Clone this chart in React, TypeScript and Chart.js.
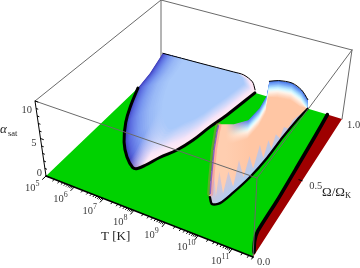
import React, { useEffect, useRef } from "react";
import { Chart, registerables } from "chart.js";
Chart.register(...registerables);

type P3 = number[];

const tTicks = [5, 6, 7, 8, 9, 10, 11];
const tMinor = [0.3, 0.48, 0.6, 0.7, 0.78, 0.85, 0.9, 0.95];
const alphaTicks = [0, 5, 10];
const alphaMinor = [1, 2, 3, 4, 6, 7, 8, 9];
const omegaTicks = [0, 0.5, 1];

// [log10 T, Omega/Omega_K] of the alpha = 0 contours
const leftContour: P3[] = [[5.0, 0.76], [5.31, 0.62], [5.66, 0.49], [6.15, 0.36], [6.61, 0.276], [7.01, 0.228], [7.16, 0.232], [7.3, 0.272], [7.48, 0.343], [7.76, 0.426], [7.96, 0.524], [8.11, 0.648], [8.3, 0.77], [8.57, 1.0]];
// [log10 T, Omega/Omega_K, alpha] of the upper rim of the low-temperature hump
const leftCrest: P3[] = [[8.57, 1, 0.45], [8.46, 1, 1.5], [8.13, 1, 2.15], [7.76, 1, 2.15], [6.5, 1, 2.0], [5.04, 1, 1.85], [5, 0.878, 0.5]];
const rightContour: P3[] = [[9.59, 0.22], [9.77, 0.187], [9.95, 0.208], [10.08, 0.289], [10.22, 0.416], [10.3, 0.568], [10.32, 0.74], [10.37, 0.89], [10.44, 1.0]];
const rightBackCrest: P3[] = [[10.41, 1, 1.3], [10.17, 1, 2.4], [9.83, 1, 3.0], [9.37, 1, 2.8], [9.05, 1, 2.3]];
const rightFrontCrest: P3[] = [[9.48, 0.82, 3.5], [9.77, 0.638, 5], [9.87, 0.486, 6], [9.89, 0.338, 8], [9.82, 0.219, 10]];
const rightWall: P3[] = [[9.78, 0.22, 9], [9.7, 0.22, 6.5], [9.62, 0.22, 2.2]];
const rightSpikes: P3[] = [[9.62, 0.215, 0.5], [9.68, 0.2, 3.4], [9.74, 0.19, 0.8], [9.8, 0.188, 5.5], [9.86, 0.195, 1], [9.92, 0.205, 4.2], [9.98, 0.225, 1], [10.03, 0.255, 3.4], [10.08, 0.29, 0.8], [10.12, 0.325, 3.8], [10.16, 0.365, 0.8], [10.2, 0.405, 3], [10.23, 0.44, 0.7], [10.26, 0.49, 3.1], [10.28, 0.53, 0.6], [10.3, 0.57, 2.4], [10.305, 0.61, 0.6], [10.31, 0.65, 1.9], [10.32, 0.7, 0.5], [10.32, 0.74, 1.4], [10.335, 0.79, 0.4], [10.35, 0.84, 0.8]];
const redBoundary: P3[] = [[11.6, 0], [11.55, 0.025], [11.4, 0.08], [11.32, 0.136], [11.3, 0.334], [11.24, 0.574], [11.17, 0.826], [11.11, 1.0]];

const T_MIN = 5;
const T_MAX = 11.6;

const homography = (q: number[][]) => {
  const [[x0, y0], [x1, y1], [x2, y2], [x3, y3]] = q;
  const dx1 = x1 - x2, dx2 = x3 - x2, sx = x0 - x1 + x2 - x3;
  const dy1 = y1 - y2, dy2 = y3 - y2, sy = y0 - y1 + y2 - y3;
  const den = dx1 * dy2 - dx2 * dy1;
  const g = (sx * dy2 - dx2 * sy) / den;
  const h = (dx1 * sy - sx * dy1) / den;
  const a = x1 - x0 + g * x1, b = x3 - x0 + h * x3;
  const d = y1 - y0 + g * y1, e = y3 - y0 + h * y3;
  return (u: number, v: number) => {
    const w = g * u + h * v + 1;
    return [(a * u + b * v + x0) / w, (d * u + e * v + y0) / w];
  };
};
const floorView = homography([[46, 176], [253, 257], [342, 119], [162, 65]]);
const ceilView = homography([[35, 101], [257, 178], [352, 50], [161, 0]]);

const project = (t: number, o: number, a: number) => {
  const u = (t - T_MIN) / (T_MAX - T_MIN);
  const f = floorView(u, o), c = ceilView(u, o), z = a / 10;
  return { x: f[0] + (c[0] - f[0]) * z, y: f[1] + (c[1] - f[1]) * z };
};
const toXY = (pts: P3[]) => pts.map((p) => project(p[0], p[1], p[2] ?? 0));

const BOX = "#6a6a6a";
const GAP = { x: NaN, y: NaN };

const hexRgb = (h: string) => [1, 3, 5].map((i) => parseInt(h.slice(i, i + 2), 16));
const ramp = (keys: string[], t: number) => {
  const f = t * (keys.length - 1);
  const i = Math.min(keys.length - 2, Math.floor(f));
  const a = hexRgb(keys[i]), b = hexRgb(keys[i + 1]), k = f - i;
  return `rgb(${a.map((v, j) => Math.round(v + (b[j] - v) * k)).join(",")})`;
};

export default function App() {
  const ref = useRef<HTMLCanvasElement>(null);
  useEffect(() => {
    const canvas = ref.current!;
    const ctx = canvas.getContext("2d")!;
    const ds: any[] = [];
    const line = (pts: any[], color: string, width: number, tension = 0) =>
      ds.push({ data: pts, showLine: true, borderColor: color, borderWidth: width, pointRadius: 0, tension, fill: false, borderCapStyle: "round", borderJoinStyle: "round", spanGaps: false });
    const poly = (pts: any[], bg: any) =>
      ds.push({ data: pts, showLine: true, borderColor: "transparent", borderWidth: 0, backgroundColor: bg, pointRadius: 0, tension: 0, fill: "shape" });
    const grad = (x0: number, y0: number, x1: number, y1: number, stops: [number, string][]) => {
      const g = ctx.createLinearGradient(x0, y0, x1, y1);
      stops.forEach(([s, c]) => g.addColorStop(s, c));
      return g;
    };

    // box, back edges
    const corner = (t: number, o: number, a: number) => project(t, o, a);
    line([corner(T_MIN, 1, 10), corner(T_MAX, 1, 10)], BOX, 1);
    line([corner(T_MIN, 0, 10), corner(T_MIN, 1, 10)], BOX, 1);
    line([corner(T_MIN, 1, 0), corner(T_MIN, 1, 10)], BOX, 1);
    line([corner(T_MAX, 1, 0), corner(T_MAX, 1, 10)], BOX, 1);

    // floor
    poly([corner(T_MIN, 0, 0), ...toXY(redBoundary), corner(T_MIN, 1, 0)], "#00d200");
    poly([...toXY(redBoundary), corner(T_MAX, 1, 0), corner(T_MAX, 0, 0)], "#9e0000");
    line(toXY(redBoundary.slice(1)), "#000", 3.6, 0.2);

    // low-temperature hump
    const leftKeys = ["#3c38b8", "#5a6ce0", "#7a98f0", "#98b8f6", "#a9c9fa"];
    const rightKeys = ["#fbd0ea", "#ffeaf5", "#f6e4f8", "#d0d8fa", "#a9c9fa"];
    const leftRim: P3[] = [...leftContour.map((p) => [p[0], p[1], 0]), ...leftCrest];
    const leftCenter = [7.4, 1, 2.1];
    const BANDS = 26;
    for (let i = 0; i < BANDS; i++) {
      const t = i / (BANDS - 1);
      const s = 0.36 * t * (0.35 + 0.65 * t);
      const pts = leftRim.map((p) => [p[0] + (leftCenter[0] - p[0]) * s, p[1] + (leftCenter[1] - p[1]) * s, p[2] + (leftCenter[2] - p[2]) * s]);
      const lc = ramp(leftKeys, t), rc = ramp(rightKeys, t);
      poly(toXY(pts), grad(125, 110, 195, 150, [[0, lc], [0.36, lc], [0.55, rc], [1, rc]]));
    }
    line(toXY(leftContour), "#000", 3, 0.4);
    line(toXY(leftCrest.slice(0, 6)), "#000", 1, 0.3);

    // high-temperature hump
    const crestKeys = ["#4878e8", "#6c9cf4", "#90c4fc", "#b8e8ff", "#e0fbff", "#fff4ea", "#ffe2d0", "#ffd2b8", "#ffc6a4"];
    const crest = [...rightBackCrest, ...rightFrontCrest];
    const contour3 = rightContour.map((p) => [p[0], p[1], 0]);
    for (let i = 0; i < BANDS; i++) {
      const t = i / (BANDS - 1);
      const d = 2.5 * t;
      const lowered = crest.map((p) => [p[0], p[1], Math.max(0, p[2] - d)]);
      poly(toXY([...contour3, ...lowered, ...rightWall]), grad(226, 0, 250, 0, [[0, "#ffceb0"], [1, ramp(crestKeys, t)]]));
    }
    poly([...toXY(rightSpikes), ...toXY(contour3).reverse()],
      grad(250, 177, 222, 149, [[0, "rgba(170,205,250,0.95)"], [0.55, "rgba(195,190,225,0.6)"], [1, "rgba(255,190,170,0)"]]));
    const wallEdge: P3[] = [[9.6, 0.22, 0.5], ...rightWall.slice().reverse(), [9.82, 0.219, 9.8]];
    line(toXY(wallEdge), "rgba(255,110,110,0.35)", 6);
    line(toXY(wallEdge), "rgba(110,80,200,0.8)", 1.6);
    line(toXY(rightContour), "#000", 2.4, 0.3);
    line(toXY(rightBackCrest), "#000", 1, 0.3);

    // box, front edges
    line([corner(T_MIN, 0, 10), corner(T_MAX, 0, 10)], BOX, 1);
    line([corner(T_MAX, 0, 10), corner(T_MAX, 1, 10)], BOX, 1);
    line([corner(T_MAX, 0, 0), corner(T_MAX, 0, 10)], BOX, 1);

    // axes and tick marks
    line([corner(T_MIN, 0, 0), corner(T_MAX, 0, 0)], "#000", 1.6);
    line([corner(T_MIN, 0, 0), corner(T_MIN, 0, 10)], "#000", 1);
    const tickSegs: any[] = [];
    tTicks.forEach((t) => {
      tickSegs.push(corner(t, 0, 0), corner(t, -0.025, 0), GAP);
      tMinor.filter((m) => t + m <= T_MAX).forEach((m) => tickSegs.push(corner(t + m, 0, 0), corner(t + m, -0.012, 0), GAP));
    });
    alphaTicks.forEach((a) => tickSegs.push(corner(T_MIN, 0, a), corner(T_MIN + 0.1, 0, a), GAP));
    alphaMinor.forEach((a) => tickSegs.push(corner(T_MIN, 0, a), corner(T_MIN + 0.06, 0, a), GAP));
    tickSegs.push(corner(T_MAX, 0.5, 0), corner(T_MAX - 0.1, 0.5, 0), GAP);
    line(tickSegs, "#000", 1);

    const labels = {
      id: "labels",
      afterDraw(chart: any) {
        const c = chart.ctx;
        c.save();
        c.fillStyle = "#3c3c3c";
        c.textBaseline = "alphabetic";
        const serif = '"Liberation Serif"';
        c.textAlign = "left";
        tTicks.forEach((t) => {
          const p = project(t, 0, 0);
          const x = p.x - 21;
          const y = p.y + 15;
          c.font = `10.5px ${serif}`;
          c.fillText("10", x, y);
          const w = c.measureText("10").width;
          c.font = `8px ${serif}`;
          c.fillText(String(t), x + w, y - 5);
        });
        c.font = `10.5px ${serif}`;
        c.textAlign = "right";
        alphaTicks.forEach((a, i) => {
          const p = project(T_MIN, 0, a);
          c.fillText(String(a), p.x + [-4, -4, -3][i], p.y + [0, 7, 12][i]);
        });
        c.textAlign = "left";
        omegaTicks.forEach((o, i) => {
          const p = project(T_MAX, o, 0);
          c.fillText(o.toFixed(1), p.x + [4, 7, 5][i], p.y + [8, 8, 9][i]);
        });
        c.fillStyle = "#222";
        c.font = `13px ${serif}`;
        c.fillText("T [K]", 101, 240);
        c.fillText("\u03A9/\u03A9", 322, 196);
        const wO = c.measureText("\u03A9/\u03A9").width;
        c.font = `8.5px ${serif}`;
        c.fillText("K", 322 + wO, 198);
        c.font = `italic 13px ${serif}`;
        c.fillText("\u03B1", 0, 133);
        c.font = `8.5px ${serif}`;
        c.fillText("sat", 8, 136);
        c.restore();
      },
    };

    const chart = new Chart(canvas, {
      type: "scatter",
      data: { datasets: ds.reverse() },
      options: {
        animation: false,
        responsive: false,
        devicePixelRatio: 1,
        layout: { padding: 0 },
        plugins: { legend: { display: false }, tooltip: { enabled: false }, title: { display: false } },
        scales: {
          x: { type: "linear", min: 0, max: 360, display: false },
          y: { type: "linear", min: 0, max: 268, reverse: true, display: false },
        },
      },
      plugins: [labels],
    } as any);
    return () => chart.destroy();
  }, []);
  return (
    <div style={{ position: "absolute", left: 0, top: 0, width: 360, height: 268, background: "#fff" }}>
      <canvas ref={ref} width={360} height={268} style={{ display: "block" }} />
    </div>
  );
}
